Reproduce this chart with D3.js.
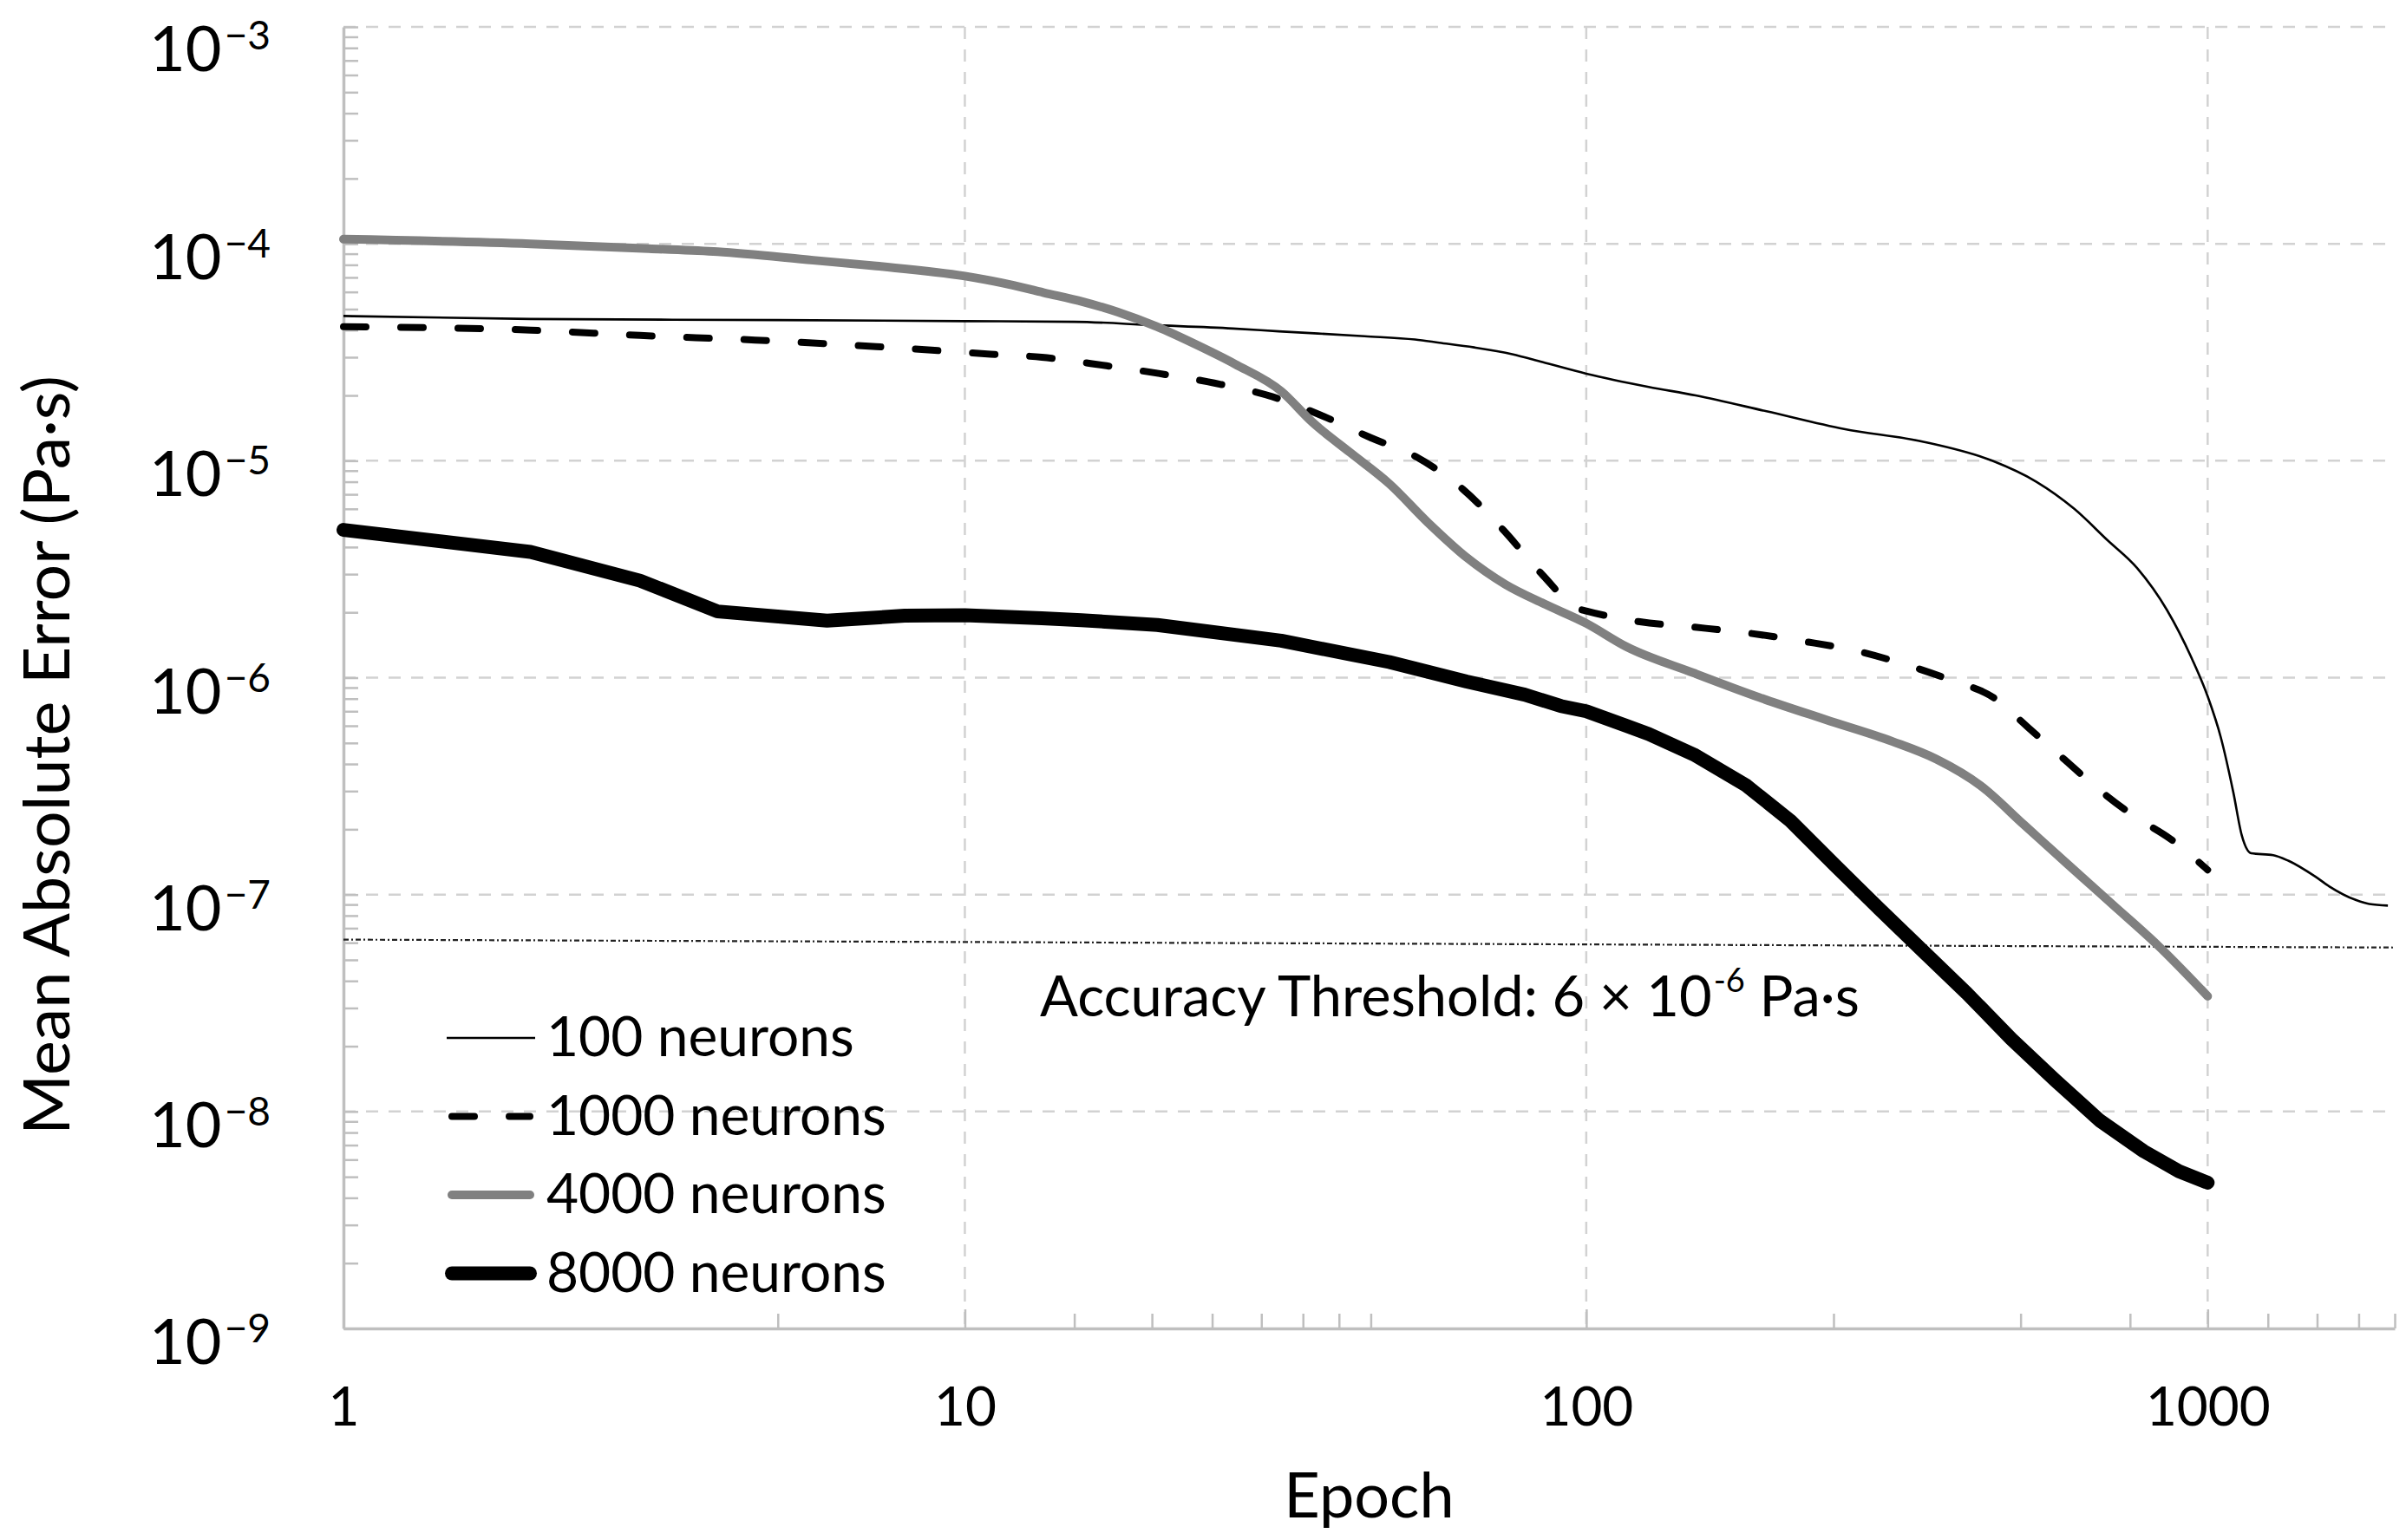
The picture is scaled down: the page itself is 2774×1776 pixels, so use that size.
<!DOCTYPE html>
<html>
<head>
<meta charset="utf-8">
<script src="https://cdnjs.cloudflare.com/ajax/libs/d3/7.8.5/d3.min.js"></script>
<style>
  html, body { margin: 0; padding: 0; background: #ffffff; }
  svg { display: block; }
  text { font-family: Lato, "Open Sans", "Liberation Sans", sans-serif; fill: #000; }
</style>
</head>
<body>
<svg id="chart" width="2774" height="1776"></svg>
<script>
// ---------------- DATA ----------------
const seriesNames = ["100 neurons", "1000 neurons", "4000 neurons", "8000 neurons"];

const epochs100 = [1, 2, 5, 10, 15, 20, 27, 32, 44, 53, 58, 66, 76, 85, 100, 126, 150, 195, 260, 350, 450, 530, 610, 690, 770, 860, 940, 1000, 1050, 1100, 1135, 1175, 1275, 1350, 1490, 1570, 1730, 1820, 1950];
const mae100 = [4.65e-5, 4.5e-5, 4.45e-5, 4.4e-5, 4.37e-5, 4.22e-5, 4.07e-5, 3.95e-5, 3.75e-5, 3.62e-5, 3.5e-5, 3.33e-5, 3.1e-5, 2.85e-5, 2.52e-5, 2.19e-5, 2.0e-5, 1.69e-5, 1.4e-5, 1.22e-5, 1.0e-5, 8.0e-6, 6.0e-6, 4.3e-6, 3.2e-6, 2.05e-6, 1.25e-6, 8.2e-7, 5.3e-7, 2.95e-7, 1.87e-7, 1.55e-7, 1.52e-7, 1.43e-7, 1.21e-7, 1.09e-7, 9.45e-8, 9.05e-8, 8.9e-8];

const epochs1000 = [1, 2, 3, 4.6, 7.2, 11, 13.3, 16.9, 20.6, 25.2, 31.3, 37.8, 44.9, 53.3, 63.4, 73.6, 85, 97, 100, 122, 149, 184, 224, 272, 326, 384, 452, 516, 588, 670, 763, 870, 1000];
const mae1000 = [4.15e-5, 4.0e-5, 3.78e-5, 3.6e-5, 3.36e-5, 3.1e-5, 3.0e-5, 2.74e-5, 2.52e-5, 2.28e-5, 1.97e-5, 1.6e-5, 1.28e-5, 1.04e-5, 7.36e-6, 4.78e-6, 2.98e-6, 2.08e-6, 2.03e-6, 1.81e-6, 1.71e-6, 1.6e-6, 1.47e-6, 1.33e-6, 1.15e-6, 9.8e-7, 8.1e-7, 5.84e-7, 4.2e-7, 3.03e-7, 2.29e-7, 1.81e-7, 1.3e-7];

const epochs4000 = [1, 2, 3.1, 4, 5.7, 7.2, 10, 11.5, 13.4, 15.5, 17.6, 20.4, 23.5, 27.2, 32.3, 36.2, 41.7, 48.2, 55.6, 64.2, 74.1, 85.5, 100, 116, 149, 190, 243, 311, 366, 431, 507, 597, 703, 828, 1000];
const mae4000 = [1.05e-4, 1.0e-4, 9.5e-5, 9.2e-5, 8.4e-5, 7.9e-5, 7.1e-5, 6.6e-5, 5.95e-5, 5.4e-5, 4.85e-5, 4.14e-5, 3.44e-5, 2.79e-5, 2.09e-5, 1.51e-5, 1.09e-5, 7.83e-6, 5.19e-6, 3.58e-6, 2.69e-6, 2.19e-6, 1.78e-6, 1.39e-6, 1.05e-6, 8.1e-7, 6.4e-7, 5.08e-7, 4.21e-7, 3.18e-7, 2.09e-7, 1.37e-7, 9.0e-8, 5.9e-8, 3.4e-8];

const epochs8000 = [1, 2, 3, 4, 6, 8, 10, 13.3, 15.4, 20.4, 32.3, 48.2, 64.2, 79.6, 91, 100, 116, 126, 149, 181, 213, 251, 296, 348, 410, 483, 569, 670, 789, 899, 1000];
const mae8000 = [4.8e-6, 3.8e-6, 2.8e-6, 2.02e-6, 1.83e-6, 1.93e-6, 1.94e-6, 1.88e-6, 1.84e-6, 1.75e-6, 1.48e-6, 1.18e-6, 9.6e-7, 8.35e-7, 7.4e-7, 7.0e-7, 6.0e-7, 5.5e-7, 4.42e-7, 3.18e-7, 2.19e-7, 1.37e-7, 8.6e-8, 5.5e-8, 3.5e-8, 2.16e-8, 1.39e-8, 9.1e-9, 6.56e-9, 5.3e-9, 4.7e-9];

const thresholdEpochs = [1, 2000];
const thresholdValues = [6.2e-8, 5.7e-8];
const thresholdLabel = "Accuracy Threshold: 6 × 10";
const thresholdExp = "-6";
const thresholdUnit = " Pa·s";

const xMajorTicks = [1, 10, 100, 1000];
const xMinorTicks = [5, 15, 20, 25, 30, 35, 40, 45, 250, 500, 750, 1250, 1500, 1750, 2000];
const yExponents = [-3, -4, -5, -6, -7, -8, -9];
const xTitle = "Epoch";
const yTitle = "Mean Absolute Error (Pa·s)";

// ---------------- STYLES / LAYOUT ----------------
const seriesData = [
  [epochs100, mae100],
  [epochs1000, mae1000],
  [epochs4000, mae4000],
  [epochs8000, mae8000]
];
const styles = [
  { color: "#000000", width: 2.6, dash: null, cap: "butt", curve: d3.curveMonotoneX },
  { color: "#000000", width: 8, dash: "26,40", cap: "round", curve: d3.curveMonotoneX },
  { color: "#808080", width: 10, dash: null, cap: "round", curve: d3.curveMonotoneX },
  { color: "#000000", width: 16, dash: null, cap: "round", curve: d3.curveLinear }
];

const plotLeft = 396, plotRight = 2761, plotTop = 31, plotBottom = 1532;
const fontFam = 'Lato, "Open Sans", sans-serif';

const svg = d3.select("#chart");
svg.append("rect").attr("width", 2774).attr("height", 1776).attr("fill", "#fff");

const x = d3.scaleLog().domain([1, 2000]).range([plotLeft, plotRight]);
const y = d3.scaleLog().domain([1e-9, 1e-3]).range([plotBottom, plotTop]);

const gridColor = "#d2d2d2";
// horizontal gridlines
const yGridVals = yExponents.map(e => Math.pow(10, e)).filter(v => v > 1e-9);
svg.append("g").selectAll("line").data(yGridVals).join("line")
  .attr("x1", plotLeft).attr("x2", plotRight)
  .attr("y1", d => y(d)).attr("y2", d => y(d))
  .attr("stroke", gridColor).attr("stroke-width", 2.5).attr("stroke-dasharray", "14,12");
// vertical gridlines
svg.append("g").selectAll("line").data(xMajorTicks.filter(d => d > 1)).join("line")
  .attr("x1", d => x(d)).attr("x2", d => x(d))
  .attr("y1", plotTop).attr("y2", plotBottom)
  .attr("stroke", gridColor).attr("stroke-width", 2.5).attr("stroke-dasharray", "14,12");

const axisColor = "#bfbfbf";
// x axis (major)
const gx = svg.append("g").attr("transform", `translate(0,${plotBottom})`)
  .call(d3.axisBottom(x).tickValues(xMajorTicks).tickSizeInner(-22).tickSizeOuter(0)
    .tickFormat(d3.format("d")).tickPadding(68));
gx.select(".domain").attr("stroke", axisColor).attr("stroke-width", 3.5);
gx.selectAll(".tick line").attr("stroke", axisColor).attr("stroke-width", 2.5);
gx.selectAll(".tick text").attr("font-size", 62).attr("font-family", fontFam).attr("fill", "#000");
// x minor
const gxm = svg.append("g").attr("transform", `translate(0,${plotBottom})`)
  .call(d3.axisBottom(x).tickValues(xMinorTicks).tickSizeInner(-17).tickSizeOuter(0).tickFormat(""));
gxm.select(".domain").remove();
gxm.selectAll(".tick line").attr("stroke", axisColor).attr("stroke-width", 2.5);

// y axis
const yMinor = [];
for (let e = -9; e < -3; e++) for (let m = 2; m <= 9; m++) yMinor.push(m * Math.pow(10, e));
const gy = svg.append("g").attr("transform", `translate(${plotLeft},0)`)
  .call(d3.axisLeft(y).tickValues(yExponents.map(e => Math.pow(10, e))).tickSizeInner(-17).tickSizeOuter(0).tickFormat(""));
gy.select(".domain").attr("stroke", axisColor).attr("stroke-width", 3.5);
gy.selectAll(".tick line").attr("stroke", axisColor).attr("stroke-width", 2.5);
const gym = svg.append("g").attr("transform", `translate(${plotLeft},0)`)
  .call(d3.axisLeft(y).tickValues(yMinor).tickSizeInner(-17).tickSizeOuter(0).tickFormat(""));
gym.select(".domain").remove();
gym.selectAll(".tick line").attr("stroke", axisColor).attr("stroke-width", 2.5);

// y tick labels with superscript exponents
const yl = svg.append("g").selectAll("text").data(yExponents).join("text")
  .attr("x", 312)
  .attr("y", d => Math.max(y(Math.pow(10, d)) + 41, 82))
  .attr("text-anchor", "end")
  .attr("font-family", fontFam);
yl.append("tspan").attr("font-size", 72).text("10");
yl.append("tspan").attr("font-size", 46).attr("dy", -25).attr("dx", 3).text(d => "\u2212" + Math.abs(d));

// threshold line
const thrLine = d3.line().x(d => x(d[0])).y(d => y(d[1]));
svg.append("path")
  .datum(thresholdEpochs.map((e, i) => [e, thresholdValues[i]]))
  .attr("d", thrLine).attr("fill", "none")
  .attr("stroke", "#222").attr("stroke-width", 2.2).attr("stroke-dasharray", "6,3,2,3");

// series lines
seriesData.forEach((s, i) => {
  const st = styles[i];
  const line = d3.line().x(d => x(d[0])).y(d => y(d[1])).curve(st.curve);
  const pts = s[0].map((e, j) => [e, s[1][j]]);
  const p = svg.append("path").datum(pts).attr("d", line)
    .attr("fill", "none").attr("stroke", st.color).attr("stroke-width", st.width)
    .attr("stroke-linecap", st.cap).attr("stroke-linejoin", "round");
  if (st.dash) p.attr("stroke-dasharray", st.dash);
});

// threshold annotation
const ann = svg.append("text").attr("x", 1199).attr("y", 1172)
  .attr("font-family", fontFam).attr("font-size", 65);
ann.append("tspan").text(thresholdLabel);
ann.append("tspan").attr("font-size", 38).attr("dy", -28).attr("dx", 2).text(thresholdExp);
ann.append("tspan").attr("dy", 28).text(thresholdUnit);

// legend
const legend = svg.append("g");
seriesNames.forEach((name, i) => {
  const st = styles[i];
  const ly = 1197 + i * 90.5;
  const l = legend.append("line")
    .attr("x1", i === 0 ? 515 : 521).attr("x2", i === 0 ? 617 : 611)
    .attr("y1", ly).attr("y2", ly)
    .attr("stroke", st.color).attr("stroke-width", st.width)
    .attr("stroke-linecap", st.cap);
  if (st.dash) l.attr("stroke-dasharray", "26,40");
  legend.append("text").attr("x", 630).attr("y", ly + 21)
    .attr("font-family", fontFam).attr("font-size", 64).text(name);
});

// axis titles
svg.append("text").attr("x", (plotLeft + plotRight) / 2).attr("y", 1750)
  .attr("text-anchor", "middle").attr("font-family", fontFam).attr("font-size", 72).text(xTitle);
svg.append("text").attr("transform", "translate(80,871) rotate(-90)")
  .attr("text-anchor", "middle").attr("font-family", fontFam).attr("font-size", 74)
  .attr("textLength", 876).attr("lengthAdjust", "spacingAndGlyphs").text(yTitle);
</script>
</body>
</html>
